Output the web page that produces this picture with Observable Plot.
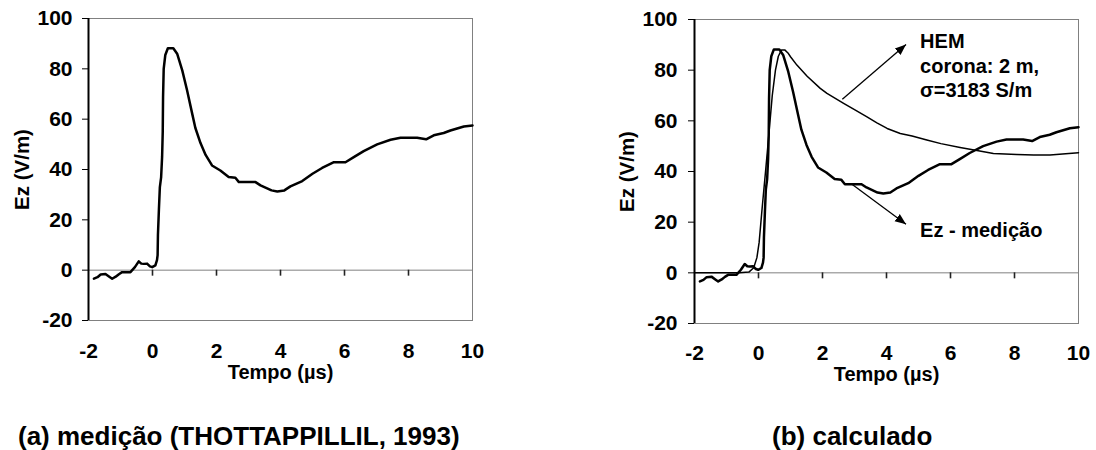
<!DOCTYPE html>
<html><head><meta charset="utf-8">
<script src="https://cdn.jsdelivr.net/npm/d3@7"></script>
<script src="https://cdn.jsdelivr.net/npm/@observablehq/plot@0.6"></script>
<style>
html,body{margin:0;padding:0;background:#fff;}
#wrap{position:relative;width:1096px;height:450px;overflow:hidden;font-family:"Liberation Sans",Arial,sans-serif;}
.panel{position:absolute;top:0;}
.cap{position:absolute;font-weight:bold;font-size:26px;line-height:26px;white-space:nowrap;color:#000;}
</style></head><body>
<div id="wrap">
  <div id="pa" class="panel" style="left:0"></div>
  <div id="pb" class="panel" style="left:548px"></div>
  <div id="ca" class="cap" style="left:18px;top:423px"></div>
  <div id="cb" class="cap" style="left:772px;top:423px"></div>
</div>
<script>
// ---- data ----
const tMeas = [-1.83,-1.72,-1.62,-1.47,-1.35,-1.26,-1.15,-1.05,-0.95,-0.69,-0.55,-0.43,-0.35,-0.27,-0.17,-0.08,-0.01,0.09,0.14,0.16,0.17,0.2,0.23,0.27,0.3,0.32,0.33,0.35,0.4,0.48,0.65,0.77,0.93,1.08,1.24,1.34,1.5,1.66,1.86,2.12,2.38,2.59,2.7,3.22,3.375,3.72,3.9,4.12,4.31,4.68,5.0,5.3,5.67,6.03,6.29,6.6,7.02,7.44,7.75,8.27,8.55,8.79,9.1,9.31,9.73,10];
const ezMeas = [-3.4,-2.8,-1.7,-1.5,-2.6,-3.4,-2.6,-1.6,-0.8,-0.8,1.2,3.5,2.6,2.5,2.6,1.5,1.2,1.9,4.0,6,14,24,33,37,45,55,69,80,85.5,88.2,88.2,86,79.4,71.5,62.2,56.5,50.5,45.8,41.6,39.6,37.0,36.7,35.0,35.0,33.7,31.7,31.3,31.7,33.3,35.4,38.3,40.6,42.9,42.9,44.9,47.3,50.0,51.8,52.6,52.6,52.0,53.6,54.5,55.5,57.1,57.5];
const tHem = [-2,-0.6,-0.3,-0.15,-0.05,0.02,0.11,0.22,0.32,0.43,0.53,0.62,0.72,0.82,0.92,1.0,1.2,1.52,1.93,2.14,2.66,3.0,3.39,3.7,4.02,4.43,4.8,5.26,5.7,6.3,6.87,7.34,8.07,8.6,9.11,9.6,10];
const ezHem = [0,0,0.3,2,6,12,25,40,54,70,80,85.5,88,88,86.8,85.3,82,77.6,72.8,70.8,66.9,64.4,61.6,59.2,57.0,55.0,54.0,52.4,51.0,49.5,48.2,47.1,46.7,46.5,46.5,47.0,47.4];

const xTicks = [-2,0,2,4,6,8,10];
const xTickMarks = [0,2,4,6,8];
const yTicks = [-20,0,20,40,60,80,100];
const yDomain = [-20, 100];
const xLabel = ["Tempo (µs)"];
const yLabel = ["Ez (V/m)"];
const captions = ["(a) medição (THOTTAPPILLIL, 1993)", "(b) calculado"];

const annoText = ["HEM\ncorona: 2 m,\nσ=3183 S/m", "Ez - medição"];
const annoX = [5.05, 5.05];
const annoY = [69.5, 14.2];
const arrowX1 = [2.62, 2.9];
const arrowY1 = [68.5, 35.2];
const arrowX2 = [4.61, 4.61];
const arrowY2 = [90.1, 19.2];

// ---- tables ----
const meas = tMeas.map((t, i) => ({t, ez: ezMeas[i]}));
const hem = tHem.map((t, i) => ({t, ez: ezHem[i]}));
const annos = annoText.map((s, i) => ({s, x: annoX[i], y: annoY[i]}));
const arrows = arrowX1.map((x1, i) => ({x1, y1: arrowY1[i], x2: arrowX2[i], y2: arrowY2[i]}));

function triangle(color) {
  return d3.create("svg:marker")
    .attr("viewBox", "-10 -5 10 10")
    .attr("markerUnits", "userSpaceOnUse")
    .attr("markerWidth", 11).attr("markerHeight", 11)
    .attr("refX", 0).attr("refY", 0)
    .attr("orient", "auto")
    .attr("fill", color).attr("stroke", "none")
    .call(m => m.append("path").attr("d", "M-10,-4L0,0L-10,4Z"))
    .node();
}

function panel(o, extra) {
  const H = 400;
  const plotH = H - o.mt - o.mb;
  // 6 px tick length expressed in y units (x axis crosses at y = 0)
  const tickUnits = 6 * (yDomain[1] - yDomain[0]) / plotH;
  const tickTable = xTickMarks.map(x => ({x, y1: 0, y2: -tickUnits}));
  return Plot.plot({
    width: 548, height: H,
    marginLeft: o.ml, marginRight: o.mr, marginTop: o.mt, marginBottom: o.mb,
    x: {domain: [-2, 10]},
    y: {domain: yDomain},
    style: {fontFamily: "'Liberation Sans', Arial, sans-serif", fontWeight: "bold", color: "#000", background: "transparent", overflow: "visible"},
    marks: [
      Plot.frame({stroke: "#808080"}),
      Plot.ruleY([0], {stroke: "#808080", strokeWidth: 1}),
      Plot.ruleX(tickTable, {x: "x", y1: "y1", y2: "y2", stroke: "#222", strokeWidth: 1.6}),
      Plot.axisX({ticks: xTicks, tickSize: 0, tickPadding: o.tpx, tickFormat: d => String(d), fontSize: 21, fontWeight: "bold", label: null}),
      Plot.axisY({ticks: yTicks, tickSize: 6, tickPadding: o.tpy, tickFormat: d => String(d), fontSize: 21, fontWeight: "bold", label: null, stroke: "#000"}),
      Plot.ruleX([-2], {stroke: "#000", strokeWidth: 2}),
      ...extra,
      Plot.line(meas, {x: "t", y: "ez", stroke: "#000", strokeWidth: 2.5, strokeLinejoin: "round"}),
      Plot.text(xLabel, {text: d => d, frameAnchor: "bottom", dy: o.xdy, lineAnchor: "bottom", fontSize: 20, fontWeight: "bold"}),
      Plot.text(yLabel, {text: d => d, frameAnchor: "left", dx: o.ydx, rotate: -90, textAnchor: "middle", lineAnchor: "middle", fontSize: 20.5, fontWeight: "bold"})
    ]
  });
}

document.getElementById("pa").append(panel({ml: 88, mr: 76, mt: 18, mb: 80, tpx: 23, tpy: 10, xdy: 58, ydx: -66}, []));
document.getElementById("pb").append(panel({ml: 146, mr: 18, mt: 19, mb: 77, tpx: 22, tpy: 11, xdy: 57, ydx: -67}, [
  Plot.line(hem, {x: "t", y: "ez", stroke: "#000", strokeWidth: 1.5, strokeLinejoin: "round"}),
  Plot.link(arrows, {x1: "x1", y1: "y1", x2: "x2", y2: "y2", stroke: "#000", strokeWidth: 1.3, markerEnd: triangle}),
  Plot.text(annos, {x: "x", y: "y", text: "s", textAnchor: "start", lineAnchor: "bottom", lineHeight: 1.21, fontSize: 20, fontWeight: "bold"})
]));
document.getElementById("ca").textContent = captions[0];
document.getElementById("cb").textContent = captions[1];
</script>
</body></html>
